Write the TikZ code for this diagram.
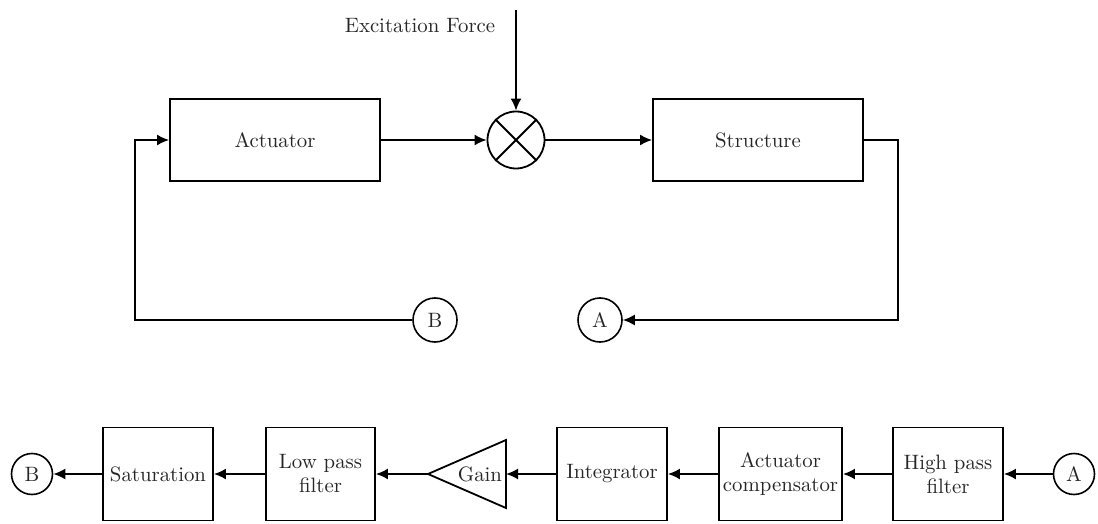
\documentclass[tikz,border=0pt]{standalone}
\usetikzlibrary{arrows.meta}
\begin{document}
\begin{tikzpicture}[x=0.5pt,y=-0.5pt,
  every node/.style={font=\fontsize{10.4}{12}\selectfont, text=black!85},
  blk/.style={draw, line width=0.9pt, minimum height=46.5pt, align=center, inner sep=2pt},
  topblk/.style={draw, line width=0.9pt, minimum width=105pt, minimum height=41pt},
  conn/.style={circle, draw, line width=0.8pt, minimum size=20.5pt, inner sep=0pt},
  wire/.style={line width=0.9pt},
  arr/.style={wire, -{Latex[length=6pt,width=5.5pt]}}]
\useasboundingbox (0,0) rectangle (1098,524);
% top loop
\node[topblk] (act) at (275,140) {Actuator};
\node[circle, draw, line width=0.9pt, minimum size=28.5pt, inner sep=0pt] (sum) at (516,140) {};
\draw[wire] (sum.45) -- (sum.225) (sum.135) -- (sum.315);
\node[topblk] (str) at (758,140) {Structure};
\node (exc) at (420,26) {Excitation Force};
\coordinate (ftop) at (516,10);
\node[conn, minimum size=22pt] (B1) at (435,320) {B};
\node[conn, minimum size=22pt] (A1) at (600,320) {A};
\coordinate (rc) at (898,140);
\coordinate (lc) at (135,140);
\draw[arr] (ftop) -- (sum.north);
\draw[arr] (act.east) -- (sum.west);
\draw[arr] (sum.east) -- (str.west);
\draw[arr] (str.east) -- (rc) |- (A1.east);
\draw[arr] (B1.west) -| (lc) -- (act.west);
% bottom chain
\node[conn] (B2) at (32,474) {B};
\node[blk, minimum width=55pt] (sat) at (158,474) {Saturation};
\node[blk, minimum width=54.5pt] (lpf) at (320.5,474) {Low pass\\filter};
\coordinate (gtip) at (428,474);
\coordinate (gbase) at (506,474);
\draw[wire, line join=miter] (gtip) -- (506,440) -- (506,508) -- cycle;
\node (gain) at (480,474) {Gain};
\node[blk, minimum width=55pt] (integ) at (612,474) {Integrator};
\node[blk, minimum width=61.5pt] (comp) at (780.5,474) {Actuator\\compensator};
\node[blk, minimum width=55pt] (hpf) at (948,474) {High pass\\filter};
\node[conn] (A2) at (1074,474) {A};
\draw[arr] (A2.west) -- (hpf.east);
\draw[arr] (hpf.west) -- (comp.east);
\draw[arr] (comp.west) -- (integ.east);
\draw[arr] (integ.west) -- (gbase);
\draw[arr] (gtip) -- (lpf.east);
\draw[arr] (lpf.west) -- (sat.east);
\draw[arr] (sat.west) -- (B2.east);
\end{tikzpicture}
\end{document}
